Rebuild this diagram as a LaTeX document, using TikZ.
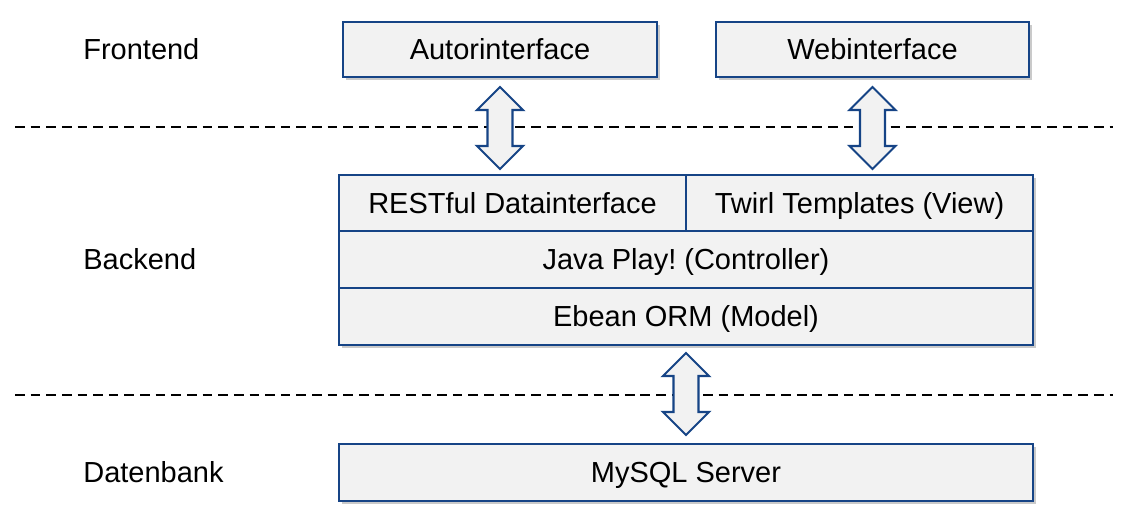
\documentclass[tikz,border=0pt]{standalone}
\usepackage{fontspec}
\setmainfont{Liberation Sans}
\usetikzlibrary{positioning,calc,shadows}
\frenchspacing

\definecolor{boxblue}{RGB}{22,68,134}
\definecolor{boxgray}{RGB}{242,242,242}

\tikzset{
  layerbox/.style={draw=boxblue, line width=1.4pt, fill=boxgray,
    font=\fontsize{16.5}{20}\selectfont, inner sep=0pt, outer sep=0pt,
    text height=13pt, text depth=1.2pt,
    minimum width=#1*0.02cm, minimum height=56*0.02cm,
    drop shadow={shadow xshift=1.6pt, shadow yshift=-1.6pt, opacity=0.35, fill=black!60}},
  rowheight/.style={minimum height=#1*0.02cm},
  sidelabel/.style={anchor=west, inner sep=0pt, font=\fontsize{16.5}{20}\selectfont},
  sepline/.style={line width=1.1pt, dash pattern=on 5.5pt off 3.4pt},
  bigarrow/.style={draw=boxblue, line width=1.2pt, fill=boxgray, line join=miter}
}

\newcommand{\dblarrow}[1]{%
  \draw[bigarrow] (#1) -- ++(23,23) -- ++(-10.5,0) -- ++(0,36) -- ++(10.5,0)
    -- ++(-23,23) -- ++(-23,-23) -- ++(10.5,0) -- ++(0,-36) -- ++(-10.5,0) -- cycle;}

\begin{document}
\begin{tikzpicture}[x=0.02cm, y=-0.02cm, node distance=0]
  \useasboundingbox (0,0) rectangle (1137,524);

  \node[sidelabel] (frontend) at (83,49) {Frontend};
  \node[sidelabel] (backend) at (83,259) {Backend};
  \node[sidelabel] (datenbank) at (83,472) {Datenbank};

  \draw[sepline] (15,127) -- (1113,127);
  \draw[sepline] (15,395) -- (1113,395);

  \node[layerbox=314, rowheight=55] (autor) at (500,49.5) {Autorinterface};
  \node[layerbox=313, rowheight=55] (web) at (872.5,49.5) {Webinterface};

  \node[layerbox=347, anchor=north west] (rest) at (339,175) {RESTful Datainterface};
  \node[layerbox=347, right=of rest] (twirl) {Twirl Templates (View)};
  \node[layerbox=694, rowheight=57, below=of rest.south west, anchor=north west] (play) {Java Play! (Controller)};
  \node[layerbox=694, rowheight=57, below=of play] (ebean) {Ebean ORM (Model)};

  \node[layerbox=694, rowheight=57] (mysql) at (686,472.5) {MySQL Server};

  \coordinate (tipa) at ($(autor.south)+(0,10)$);
  \coordinate (tipb) at ($(web.south)+(0,10)$);
  \coordinate (tipc) at ($(ebean.south)+(0,8)$);
  \dblarrow{tipa}
  \dblarrow{tipb}
  \dblarrow{tipc}
\end{tikzpicture}
\end{document}
